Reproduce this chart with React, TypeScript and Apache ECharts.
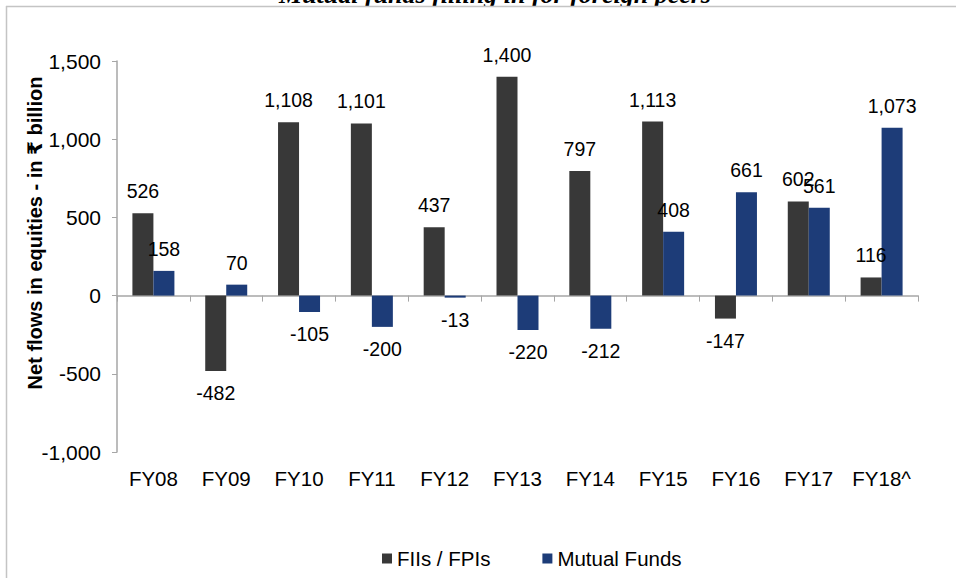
import React, { useEffect, useRef } from "react";
import * as echarts from "echarts";

const categories = ["FY08", "FY09", "FY10", "FY11", "FY12", "FY13", "FY14", "FY15", "FY16", "FY17", "FY18^"];
const fiiValues = [526, -482, 1108, 1101, 437, 1400, 797, 1113, -147, 602, 116];
const mfValues = [158, 70, -105, -200, -13, -220, -212, 408, 661, 561, 1073];
const seriesNames = ["FIIs / FPIs", "Mutual Funds"];
const titleText = "Mutual funds filling in for foreign peers";
const yAxisTitle = "Net flows in equities - in ₹ billion";

const FONT = "'Liberation Sans', Arial, 'DejaVu Sans', sans-serif";
const fmt = (v: number) => v.toLocaleString("en-US");

export default function App() {
  const ref = useRef<HTMLDivElement>(null);
  useEffect(() => {
    document.body.style.margin = "0";
    if (!ref.current) return;
    const chart = echarts.init(ref.current, undefined, { renderer: "svg" });
    const labelOpt = {
      show: true,
      fontSize: 19.5,
      color: "#000",
      fontFamily: FONT,
      distance: 12,
      formatter: (p: any) => fmt(p.value),
    };
    const mkData = (arr: number[]) =>
      arr.map((v) => ({ value: v, label: { position: v >= 0 ? "top" : "bottom" } }));
    chart.setOption({
      animation: false,
      backgroundColor: "#fff",
      textStyle: { fontFamily: FONT },
      grid: { left: 117, right: 38, top: 61, bottom: 126, containLabel: false },
      legend: {
        data: seriesNames,
        left: 377,
        top: 543,
        icon: "rect",
        itemWidth: 10,
        itemHeight: 10,
        itemGap: 52,
        textStyle: { fontSize: 20.5, color: "#000", fontFamily: FONT },
      },
      xAxis: [
        {
          type: "category",
          data: categories,
          axisLine: { onZero: true, lineStyle: { color: "#a6a6a6", width: 1.5 } },
          axisTick: { show: true, length: 6, inside: false, lineStyle: { color: "#a6a6a6" } },
          axisLabel: { show: false },
          splitLine: { show: false },
        },
        {
          type: "category",
          data: categories,
          position: "bottom",
          axisLine: { show: false, onZero: false },
          axisTick: { show: false },
          axisLabel: { show: true, interval: 0, fontSize: 20.5, color: "#000", margin: 16, fontFamily: FONT },
          splitLine: { show: false },
        },
      ],
      yAxis: {
        type: "value",
        min: -1000,
        max: 1500,
        interval: 500,
        axisLine: { show: true, lineStyle: { color: "#a6a6a6", width: 1.5 } },
        axisTick: { show: true, length: 5, lineStyle: { color: "#a6a6a6" } },
        axisLabel: { fontSize: 21, color: "#000", margin: 16, fontFamily: FONT, formatter: (v: number) => fmt(v) },
        splitLine: { show: false },
      },
      series: [
        {
          name: seriesNames[0],
          type: "bar",
          xAxisIndex: 0,
          data: mkData(fiiValues),
          itemStyle: { color: "#383838" },
          barWidth: 21,
          barGap: "0%",
          label: labelOpt,
        },
        {
          name: seriesNames[1],
          type: "bar",
          xAxisIndex: 0,
          data: mkData(mfValues),
          itemStyle: { color: "#1d3c78" },
          barWidth: 21,
          barGap: "0%",
          label: labelOpt,
        },
      ],
      graphic: [
        {
          type: "text",
          x: 495,
          y: 7,
          style: {
            text: titleText,
            fontSize: 26,
            fontWeight: "bold",
            fontStyle: "italic",
            fontFamily: "'Liberation Serif', 'Times New Roman', serif",
            fill: "#000",
            align: "center",
            verticalAlign: "bottom",
          },
        },
        {
          type: "rect",
          shape: { x: 0, y: 6.5, width: 956, height: 4 },
          style: { fill: "#fff" },
        },
        {
          type: "line",
          shape: { x1: 6, y1: 6.5, x2: 956, y2: 6.5 },
          style: { stroke: "#c4c4c4", lineWidth: 1.5 },
        },
        {
          type: "line",
          shape: { x1: 6.5, y1: 6, x2: 6.5, y2: 578 },
          style: { stroke: "#c4c4c4", lineWidth: 1.5 },
        },
        {
          type: "text",
          x: 35,
          y: 233,
          rotation: Math.PI / 2,
          style: {
            text: yAxisTitle,
            fontSize: 20,
            fontWeight: "bold",
            fontFamily: FONT,
            fill: "#000",
            align: "center",
            verticalAlign: "middle",
          },
        },
      ],
    });
    return () => chart.dispose();
  }, []);
  return <div ref={ref} style={{ width: 956, height: 578 }} />;
}
